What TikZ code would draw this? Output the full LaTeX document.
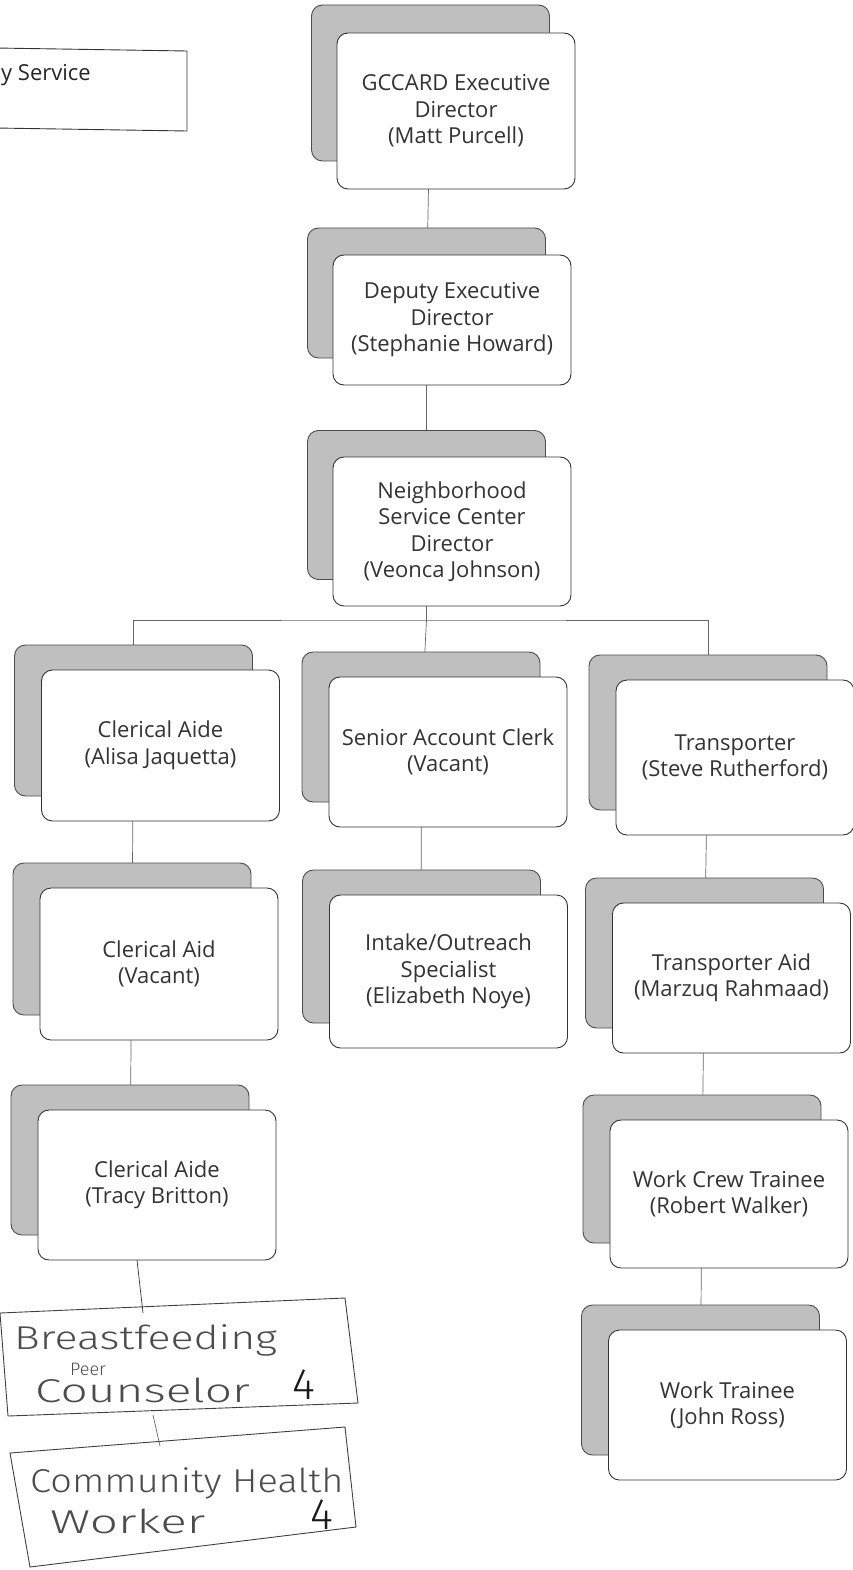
\documentclass[tikz,border=0pt]{standalone}
\usepackage{fontspec}
\setmainfont{Open Sans}
\newfontfamily\handfont{Fira Sans Light}
\usetikzlibrary{backgrounds,calc}
\tikzset{
  x=1pt,y=-1pt,
  frontbox/.style={draw=black!80, line width=0.9pt, fill=white, rounded corners=11pt,
    minimum width=238pt, minimum height=#1, inner sep=2pt, align=center,
    font=\fontsize{22}{26.5}\selectfont, text=black!80},
  frontbox/.default=150pt,
  backbox/.style={draw=black!70, line width=0.9pt, fill=black!25, rounded corners=11pt,
    minimum width=238pt, minimum height=#1},
  backbox/.default=150pt,
  link/.style={draw=black!60, line width=0.7pt},
  hand/.style={draw=black!75, line width=0.9pt},
  handtext/.style={font=\handfont\fontsize{33}{33}\selectfont, text=black!70, inner sep=0pt, anchor=base west},
  handfour/.style={font=\handfont\fontsize{44}{44}\selectfont, text=black!90, inner sep=0pt, anchor=base west}
}
\begin{document}
\begin{tikzpicture}
\useasboundingbox (0,0) rectangle (853,1570);
% partial header box
\draw[black!80, line width=0.9pt] (-5,48) -- (187,51) -- (187,131) -- (-5,128);
\node[anchor=west, font=\fontsize{22}{26}\selectfont, text=black!85, inner sep=0pt] (hdr) at (1,75) {y Service};

% top chain
\node[backbox=156pt] (gc-s) at (430.5,83) {};
\node[frontbox=156pt] (gc) at (456,111) {GCCARD Executive\\Director\\(Matt Purcell)};
\node[backbox=130pt] (dep-s) at (426.5,293) {};
\node[frontbox=130pt] (dep) at (452,320) {Deputy Executive\\Director\\(Stephanie Howard)};
\node[backbox=149pt] (nsc-s) at (426.5,505) {};
\node[frontbox=149pt] (nsc) at (452,531.5) {Neighborhood\\Service Center\\Director\\(Veonca Johnson)};

% left column
\node[backbox=151pt] (al-s) at (133.5,720.5) {};
\node[frontbox=151pt] (al) at (160.5,745.5) {Clerical Aide\\(Alisa Jaquetta)};
\node[backbox=152pt] (ca-s) at (132,939) {};
\node[frontbox=152pt] (ca) at (159,964) {Clerical Aid\\(Vacant)};
\node[backbox=150pt] (tb-s) at (130,1160) {};
\node[frontbox=150pt] (tb) at (157,1185) {Clerical Aide\\(Tracy Britton)};

% middle column
\node[backbox=150pt] (sac-s) at (421,727) {};
\node[frontbox=150pt] (sac) at (448,752) {Senior Account Clerk\\(Vacant)};
\node[backbox=153pt] (io-s) at (421.5,946.5) {};
\node[frontbox=153pt] (io) at (448.5,971.5) {Intake/Outreach\\Specialist\\(Elizabeth Noye)};

% right column
\node[backbox=155pt] (tr-s) at (708,732.5) {};
\node[frontbox=155pt] (tr) at (735,757.5) {Transporter\\(Steve Rutherford)};
\node[backbox=150pt] (ta-s) at (704.5,953) {};
\node[frontbox=150pt] (ta) at (731.5,978) {Transporter Aid\\(Marzuq Rahmaad)};
\node[backbox=148pt] (wc-s) at (702,1169) {};
\node[frontbox=148pt] (wc) at (729,1194) {Work Crew Trainee\\(Robert Walker)};
\node[backbox=150pt] (wt-s) at (700.5,1380) {};
\node[frontbox=150pt] (wt) at (727.5,1405) {Work Trainee\\(John Ross)};

% handwritten boxes
\draw[hand] (0,1313) -- (345,1298) -- (358,1403) -- (8,1416) -- cycle;
\node[handtext] (bf1) at (14,1349) {\scalebox{1.3}[1]{Breastfeeding}};
\node[handtext, font=\handfont\fontsize{18}{18}\selectfont] (bf2) at (70,1375) {Peer};
\node[handtext] (bf3) at (35,1402) {\scalebox{1.45}[1]{Counselor}};
\node[handfour] (bf4) at (292,1399) {4};
\draw[hand] (10,1453) -- (345,1427) -- (356,1527) -- (30,1567) -- cycle;
\node[handtext] (ch1) at (30,1492) {\scalebox{1.15}[1]{Community Health}};
\node[handtext] (ch2) at (50,1533) {\scalebox{1.5}[1]{Worker}};
\node[handfour] (ch3) at (310,1529) {4};
\coordinate (bfTop) at (143,1313);
\coordinate (bfBot) at (153,1415);
\coordinate (chTop) at (160,1446);
\coordinate (tbBot) at (137,1260);

% connectors
\begin{scope}[on background layer]
\coordinate (bus) at (426.5,620);
\draw[link] (gc-s.center) -- (dep-s.center);
\draw[link] (dep-s.center) -- (nsc-s.center);
\draw[link] (nsc-s.center) -- (bus);
\draw[link] (al-s.center) |- (bus) -| (tr-s.center);
\draw[link] (bus) -- (sac-s.center);
\draw[link] (al-s.center) -- (ca-s.center);
\draw[link] (ca-s.center) -- (tb-s.center);
\draw[link] (sac-s.center) -- (io-s.center);
\draw[link] (tr-s.center) -- (ta-s.center);
\draw[link] (ta-s.center) -- (wc-s.center);
\draw[link] (wc-s.center) -- (wt-s.center);
\end{scope}
\draw[link, black!80] (tbBot) -- (bfTop);
\draw[link] (bfBot) -- (chTop);
\end{tikzpicture}
\end{document}
